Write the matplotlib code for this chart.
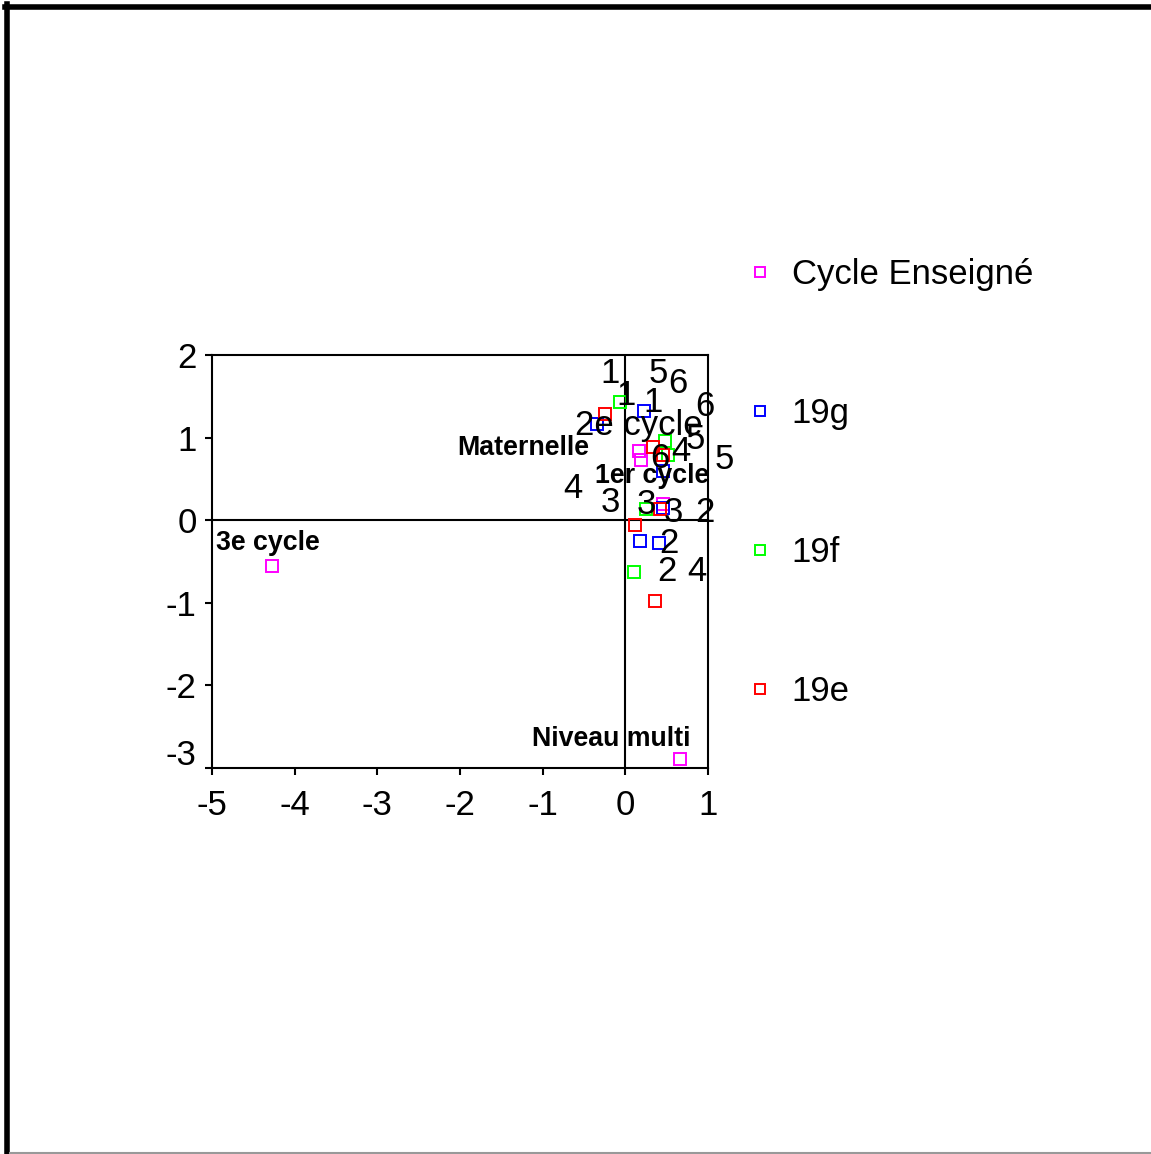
import matplotlib
matplotlib.use("Agg")
import matplotlib.pyplot as plt
from matplotlib.lines import Line2D
from matplotlib.transforms import ScaledTranslation

plt.rcParams['font.family'] = ['Liberation Sans', 'DejaVu Sans']

# Modalités "Cycle Enseigné" (points étiquetés en gras)
cycle_noms = ["Maternelle", "1er cycle", "2e cycle", "3e cycle", "Niveau multi"]
cycle_x = [0.17, 0.19, 0.46, -4.27, 0.665]
cycle_y = [0.84, 0.73, 0.20, -0.55, -2.89]
# position des étiquettes
cycle_lx = [-1.23, 0.33, 0.16, -4.32, -0.17]
cycle_ly = [0.87, 0.54, 1.15, -0.27, -2.65]
cycle_gras = [True, True, False, True, True]

# Questions 19g, 19f, 19e
g_x = [0.22, -0.34, 0.45, 0.45, 0.18, 0.41]
g_y = [1.32, 1.16, 0.60, 0.15, -0.25, -0.27]

f_x = [-0.07, 0.48, 0.52, 0.25, 0.11]
f_y = [1.43, 0.96, 0.79, 0.14, -0.63]

e_x = [-0.25, 0.34, 0.45, 0.42, 0.12, 0.36]
e_y = [1.29, 0.89, 0.79, 0.14, -0.06, -0.98]

# étiquettes numériques des modalités
num_txt = ["1", "1", "1", "5", "6", "6", "5", "4", "6", "5",
           "4", "3", "3", "3", "2", "2", "2", "4"]
num_x = [-0.19, 0.01, 0.33, 0.40, 0.63, 0.96, 0.85, 0.67, 0.42, 1.20,
         -0.63, -0.18, 0.25, 0.58, 0.96, 0.53, 0.50, 0.86]
num_y = [1.77, 1.51, 1.43, 1.78, 1.66, 1.38, 0.98, 0.83, 0.75, 0.73,
         0.38, 0.22, 0.19, 0.09, 0.09, -0.28, -0.62, -0.62]

series = [
    ("Cycle Enseigné", cycle_x, cycle_y, "#ff00ff"),
    ("19g", g_x, g_y, "#0000ff"),
    ("19f", f_x, f_y, "#00ff00"),
    ("19e", e_x, e_y, "#ff0000"),
]

fig = plt.figure(figsize=(11.51, 11.54), dpi=100)
ax = fig.add_axes([212/1151, 1 - 768/1154, 496/1151, 413/1154])

ax.axhline(0, color="black", lw=1.5, zorder=1)
ax.axvline(0, color="black", lw=1.5, zorder=1)

for nom, xs, ys, col in series:
    ax.plot(xs, ys, ls="none", marker="s", ms=8.5, mfc="none",
            mec=col, mew=1.4, label=nom, zorder=3)

for t, x, y, b in zip(cycle_noms, cycle_lx, cycle_ly, cycle_gras):
    if b:
        ax.text(x, y, t, fontsize=19.3, fontweight="bold",
                ha="center", va="center", zorder=4)
    else:
        ax.text(x, y, t, fontsize=25, ha="center", va="center", zorder=4)

for t, x, y in zip(num_txt, num_x, num_y):
    ax.text(x, y, t, fontsize=25, ha="center", va="center", zorder=4)

ax.set_xlim(-5, 1)
ax.set_ylim(-3, 2)
ax.set_xticks([-5, -4, -3, -2, -1, 0, 1])
ax.set_yticks([-3, -2, -1, 0, 1, 2])
ax.set_xticklabels(["-5", "-4", "-3", "-2", "-1", "0", "1"])
ax.set_yticklabels(["-3", "-2", "-1", "0", "1", "2"])
ax.tick_params(direction="out", length=5, width=1.5, labelsize=25, pad=6)
ax.tick_params(axis="x", pad=10)
for s in ax.spines.values():
    s.set_linewidth(1.5)

# l'étiquette -3 est remontée
lab = ax.get_yticklabels()[0]
lab.set_transform(lab.get_transform() + ScaledTranslation(0, 0.16, fig.dpi_scale_trans))

leg = ax.legend(loc="upper left", bbox_to_anchor=(732/1151, 1 - 241/1154),
                bbox_transform=fig.transFigure, frameon=False,
                fontsize=25, labelspacing=3.05, handlelength=0.6,
                handletextpad=0.62, markerscale=0.85, borderpad=0)

# cadre de la figure
fig.add_artist(Line2D([5/1151, 1], [1 - 6.5/1154, 1 - 6.5/1154],
                      color="black", lw=4, transform=fig.transFigure))
fig.add_artist(Line2D([7.5/1151, 7.5/1151], [0, 1 - 4/1154],
                      color="black", lw=4, transform=fig.transFigure))
fig.add_artist(Line2D([10/1151, 1], [1.5/1154, 1.5/1154],
                      color="#999999", lw=1.5, transform=fig.transFigure))

fig.savefig("out.png", dpi=100)
